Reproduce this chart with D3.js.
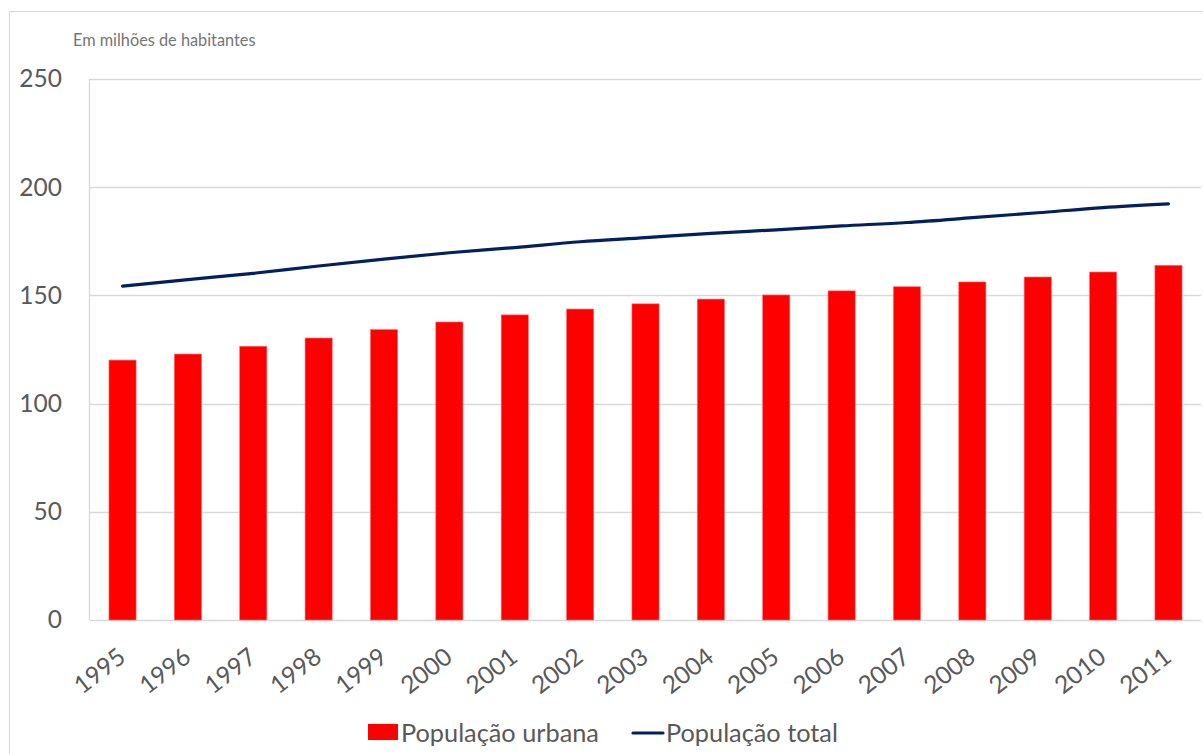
<!DOCTYPE html>
<html><head><meta charset="utf-8">
<script src="https://cdn.jsdelivr.net/npm/d3@7"></script>
<style>body{margin:0;background:#fff;} text{font-family:Lato,"Open Sans",sans-serif;}</style>
</head><body>
<svg id="c" width="1203" height="754"></svg>
<script>
const years = ["1995","1996","1997","1998","1999","2000","2001","2002","2003","2004","2005","2006","2007","2008","2009","2010","2011"];
const urbana = [120.1,122.9,126.5,130.3,134.2,137.7,141.0,143.7,146.1,148.3,150.2,152.1,154.0,156.2,158.5,160.8,163.9];
const total = [154.3,157.3,160.2,163.6,166.8,169.7,172.1,174.8,176.7,178.7,180.3,182.1,183.7,185.9,188.2,190.6,192.3];
const yTicks = [0,50,100,150,200,250];
const seriesNames = ["População urbana","População total"];
const subtitle = "Em milhões de habitantes";

const svg = d3.select("#c");
const L=90, R=1201, T=79, B=620;
const x = d3.scaleBand().domain(years).range([L,R]).paddingInner(0.585).paddingOuter(0.29);
const y = d3.scaleLinear().domain([0,250]).range([B,T]);

// outer frame
svg.append("rect").attr("x",9.5).attr("y",11.5).attr("width",1210).attr("height",760)
  .attr("fill","none").attr("stroke","#d9d9d9").attr("stroke-width",1);

// gridlines
svg.append("g").selectAll("line").data(yTicks).join("line")
  .attr("x1",L).attr("x2",R).attr("y1",d=>Math.round(y(d))+0.5).attr("y2",d=>Math.round(y(d))+0.5)
  .attr("stroke","#d9d9d9").attr("stroke-width",1.3);
svg.append("line").attr("x1",L-0.5).attr("x2",L-0.5).attr("y1",T).attr("y2",B)
  .attr("stroke","#d9d9d9").attr("stroke-width",1.3);

// y axis
const yAxis = d3.axisLeft(y).tickValues(yTicks).tickSize(0).tickPadding(28);
const gy = svg.append("g").attr("transform",`translate(${L},0)`).call(yAxis);
gy.select(".domain").remove();
gy.selectAll("text").attr("font-size",24.5).attr("fill","#595959").attr("font-family","Lato,'Open Sans',sans-serif");

// x axis
const xAxis = d3.axisBottom(x).tickSize(0).tickPadding(0);
const gx = svg.append("g").attr("transform",`translate(0,${B})`).call(xAxis);
gx.select(".domain").remove();
gx.selectAll("text").attr("font-size",24.5).attr("fill","#595959").attr("font-family","Lato,'Open Sans',sans-serif")
  .attr("text-anchor","end").attr("dy",0)
  .attr("transform",function(d){return `translate(${x.bandwidth()/2-9},${40}) rotate(-38)`;})
  .attr("x",0).attr("y",0);

// bars
svg.append("g").selectAll("rect").data(years).join("rect")
  .attr("x",d=>x(d)).attr("width",x.bandwidth())
  .attr("y",(d,i)=>y(urbana[i])).attr("height",(d,i)=>B-y(urbana[i]))
  .attr("fill","#ff0000").attr("stroke","#ff6a6a").attr("stroke-width",0.6);

// line
const line = d3.line().x((d,i)=>x(years[i])+x.bandwidth()/2).y(d=>y(d)).curve(d3.curveMonotoneX);
svg.append("path").datum(total).attr("d",line).attr("fill","none")
  .attr("stroke","#002060").attr("stroke-width",3.2).attr("stroke-linecap","round");

// subtitle
svg.append("text").attr("x",73).attr("y",46).attr("font-size",16.3).attr("fill","#757575").text(subtitle);

// legend
const lg = svg.append("g");
lg.append("rect").attr("x",368).attr("y",724).attr("width",30).attr("height",16).attr("fill","#ff0000");
lg.append("text").attr("x",401).attr("y",742).attr("font-size",25.3).attr("fill","#595959").text(seriesNames[0]);
lg.append("line").attr("x1",633).attr("x2",663).attr("y1",733).attr("y2",733).attr("stroke","#002060").attr("stroke-width",3.2).attr("stroke-linecap","round");
lg.append("text").attr("x",666).attr("y",742).attr("font-size",25.3).attr("fill","#595959").text(seriesNames[1]);
</script>
</body></html>
